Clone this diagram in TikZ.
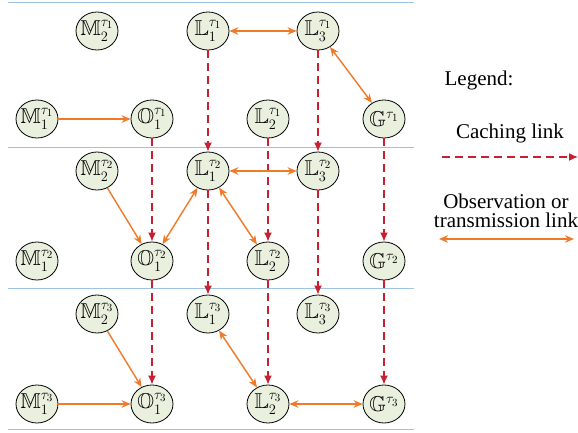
\documentclass[tikz,border=0pt]{standalone}
\usepackage{fontspec}
\setmainfont{Liberation Serif}
\usepackage{amssymb}
\usetikzlibrary{arrows.meta,shapes.geometric}

\definecolor{slotblue}{RGB}{157,195,230}
\definecolor{linkorange}{RGB}{240,122,40}
\definecolor{cachered}{RGB}{200,32,47}
\definecolor{nodefill}{RGB}{233,240,222}

% state label: its width does not enlarge the ellipse around it
\newcommand{\stlab}[1]{\makebox[0pt]{$#1$}}

\tikzset{
  stnode/.style={ellipse, draw=black, line width=0.8pt, fill=nodefill,
    minimum width=42pt, minimum height=38pt, inner sep=0pt,
    font=\fontsize{21.5}{24}\selectfont},
  obs/.style={draw=linkorange, line width=1.4pt, -{Stealth[length=9pt,width=7.5pt]}},
  obsboth/.style={draw=linkorange, line width=1.4pt,
    {Stealth[length=9pt,width=7.5pt]}-{Stealth[length=9pt,width=7.5pt]}},
  cache/.style={draw=cachered, line width=1.4pt, dash pattern=on 8pt off 5pt,
    -{Latex[length=9pt,width=8pt]}},
  slot/.style={draw=slotblue, line width=1pt},
  legendtext/.style={font=\fontsize{21}{19}\selectfont, align=center, inner sep=0pt}
}

\begin{document}
\begin{tikzpicture}[x=1pt, y=-1pt]
\useasboundingbox (0,0) rectangle (578,433);

% time-slot separators
\foreach \yy in {3,147,288,429}
  \draw[slot] (8,\yy) -- (414,\yy);

% slot tau_1
\node[stnode] (M2a) at (97,31)  {\stlab{\mathbb{M}_2^{\tau_1}}};
\node[stnode] (L1a) at (208,31) {\stlab{\mathbb{L}_1^{\tau_1}}};
\node[stnode] (L3a) at (318,31) {\stlab{\mathbb{L}_3^{\tau_1}}};
\node[stnode] (M1a) at (37,119)  {\stlab{\mathbb{M}_1^{\tau_1}}};
\node[stnode] (O1a) at (152,119) {\stlab{\mathbb{O}_1^{\tau_1}}};
\node[stnode] (L2a) at (268,119) {\stlab{\mathbb{L}_2^{\tau_1}}};
\node[stnode] (Ga)  at (384,119) {\stlab{\mathbb{G}^{\tau_1}}};

% slot tau_2
\node[stnode] (M2b) at (97,171)  {\stlab{\mathbb{M}_2^{\tau_2}}};
\node[stnode] (L1b) at (208,171) {\stlab{\mathbb{L}_1^{\tau_2}}};
\node[stnode] (L3b) at (318,171) {\stlab{\mathbb{L}_3^{\tau_2}}};
\node[stnode] (M1b) at (37,261)  {\stlab{\mathbb{M}_1^{\tau_2}}};
\node[stnode] (O1b) at (152,261) {\stlab{\mathbb{O}_1^{\tau_2}}};
\node[stnode] (L2b) at (268,261) {\stlab{\mathbb{L}_2^{\tau_2}}};
\node[stnode] (Gb)  at (384,261) {\stlab{\mathbb{G}^{\tau_2}}};

% slot tau_3
\node[stnode] (M2c) at (97,314)  {\stlab{\mathbb{M}_2^{\tau_3}}};
\node[stnode] (L1c) at (208,314) {\stlab{\mathbb{L}_1^{\tau_3}}};
\node[stnode] (L3c) at (318,314) {\stlab{\mathbb{L}_3^{\tau_3}}};
\node[stnode] (M1c) at (37,404)  {\stlab{\mathbb{M}_1^{\tau_3}}};
\node[stnode] (O1c) at (152,404) {\stlab{\mathbb{O}_1^{\tau_3}}};
\node[stnode] (L2c) at (268,404) {\stlab{\mathbb{L}_2^{\tau_3}}};
\node[stnode] (Gc)  at (384,404) {\stlab{\mathbb{G}^{\tau_3}}};

% caching links between consecutive slots
\foreach \a/\b in {O1a/O1b, L1a/L1b, L2a/L2b, L3a/L3b, Ga/Gb,
                   O1b/O1c, L1b/L1c, L2b/L2c, L3b/L3c, Gb/Gc}
  \draw[cache] (\a) -- (\b);

% observation / transmission links
\draw[obsboth] (L1a) -- (L3a);
\draw[obsboth] (L3a) -- (Ga);
\draw[obs] (M1a) -- (O1a);

\draw[obs] (M2b) -- (O1b);
\draw[obsboth] (O1b) -- (L1b);
\draw[obsboth] (L1b) -- (L2b);
\draw[obsboth] (L1b) -- (L3b);

\draw[obs] (M2c) -- (O1c);
\draw[obs] (M1c) -- (O1c);
\draw[obsboth] (L1c) -- (L2c);
\draw[obsboth] (L2c) -- (Gc);

% legend
\node[legendtext] (lg) at (479,80) {Legend:};
\node[legendtext] (lc) at (510,133) {Caching link};
\coordinate (lcA) at (442,157);
\coordinate (lcB) at (578,157);
\draw[cache] (lcA) -- (lcB);
\node[legendtext] (lo) at (506,211) {Observation or\\transmission link};
\coordinate (loA) at (439,239);
\coordinate (loB) at (574,239);
\draw[obsboth] (loA) -- (loB);
\end{tikzpicture}
\end{document}
